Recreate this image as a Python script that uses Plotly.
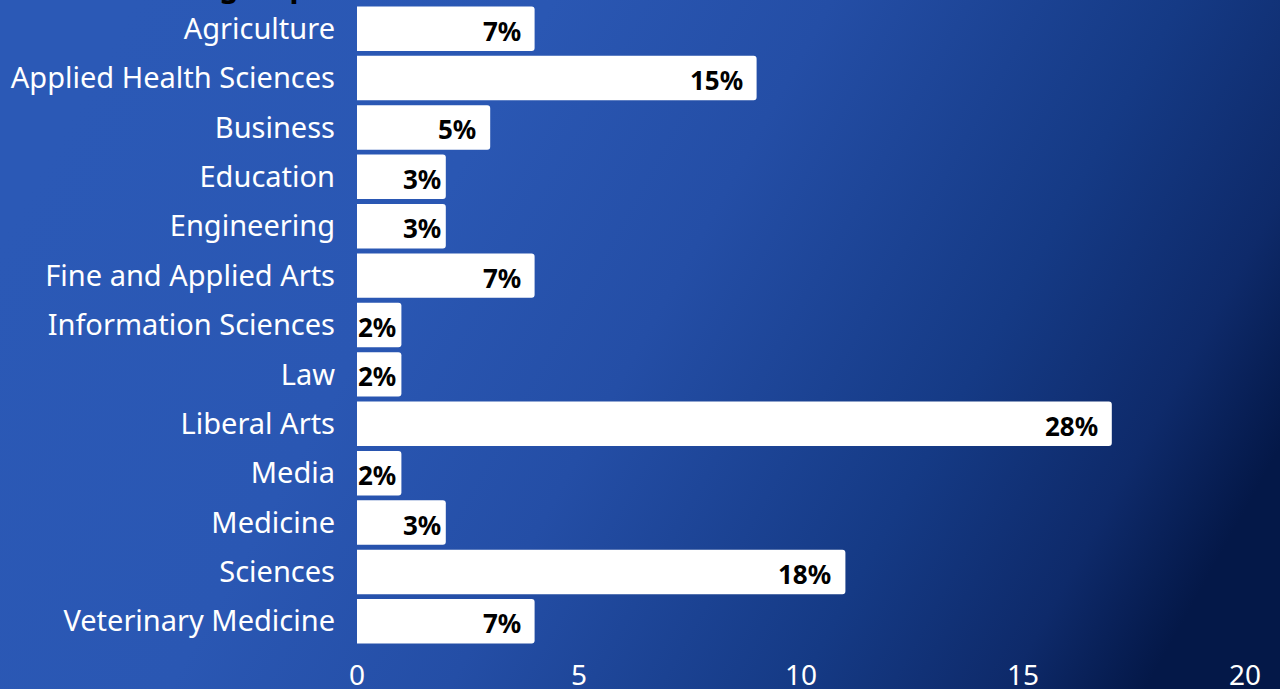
import base64
import plotly.graph_objects as go

categories = ["Agriculture", "Applied Health Sciences", "Business", "Education",
              "Engineering", "Fine and Applied Arts", "Information Sciences", "Law",
              "Liberal Arts", "Media", "Medicine", "Sciences", "Veterinary Medicine"]
counts = [4, 9, 3, 2, 2, 4, 1, 1, 17, 1, 2, 11, 4]
pct_labels = ["7%", "15%", "5%", "3%", "3%", "7%", "2%", "2%", "28%", "2%", "3%", "18%", "7%"]
x_ticks = [0, 5, 10, 15, 20]
title_text = "Students in group"

W, H = 1280, 689
ML, MR, MT, MB = 357, 35, 4, 43
pw = W - ML - MR
ph = H - MT - MB

svg = f'''<svg xmlns="http://www.w3.org/2000/svg" width="{W}" height="{H}" viewBox="0 0 {W} {H}" preserveAspectRatio="none">
<defs>
<linearGradient id="g" x1="0" y1="0.35" x2="1" y2="0.65">
<stop offset="0" stop-color="#2b59b6"/>
<stop offset="0.3" stop-color="#2a57b3"/>
<stop offset="0.5" stop-color="#244ea6"/>
<stop offset="0.75" stop-color="#153a85"/>
<stop offset="0.9" stop-color="#0e2a6a"/>
<stop offset="1" stop-color="#041848"/>
</linearGradient>
</defs>
<rect width="{W}" height="{H}" fill="url(#g)"/>
</svg>'''
src = "data:image/svg+xml;base64," + base64.b64encode(svg.encode()).decode()

fig = go.Figure()
fig.add_trace(go.Bar(
    y=categories, x=counts, orientation="h",
    marker=dict(color="white", line=dict(width=0), cornerradius=3),
    width=0.9, hoverinfo="skip",
))

label_annotations = [
    dict(x=v, y=c, xref="x", yref="y", text=f"<b>{t}</b>", showarrow=False,
         xanchor="right", yanchor="middle", xshift=(-3 if v <= 2 else -12), yshift=-2,
         font=dict(family="Noto Sans", size=26, color="black"))
    for c, v, t in zip(categories, counts, pct_labels)
]

title_annotation = dict(text=f"<b>{title_text}</b>", xref="paper", yref="paper",
                        x=(40 - ML) / pw, y=1, xanchor="left", yanchor="bottom",
                        yshift=-4, showarrow=False,
                        font=dict(family="Noto Sans", size=30, color="black"))

fig.update_layout(
    width=W, height=H,
    margin=dict(l=ML, r=MR, t=MT, b=MB, autoexpand=False),
    paper_bgcolor="#1f479c", plot_bgcolor="rgba(0,0,0,0)",
    showlegend=False,
    font=dict(family="Noto Sans", color="white"),
    images=[dict(source=src, xref="paper", yref="paper",
                 x=-ML / pw, y=1 + MT / ph, sizex=W / pw, sizey=H / ph,
                 xanchor="left", yanchor="top", sizing="stretch", layer="below")],
    annotations=label_annotations + [title_annotation],
)
fig.update_xaxes(range=[0, 20], tickvals=x_ticks, showgrid=False, zeroline=False,
                 showline=False, tickfont=dict(size=28, color="white"),
                 ticklabelstandoff=10, automargin=False, fixedrange=True)
fig.update_yaxes(autorange="reversed", showgrid=False, zeroline=False, showline=False,
                 tickfont=dict(size=29, color="white"), ticklabelstandoff=21,
                 automargin=False, fixedrange=True)

fig.write_html("out.html", config={"displayModeBar": False},
               post_script="document.body.style.margin='0';document.body.style.overflow='hidden';")
